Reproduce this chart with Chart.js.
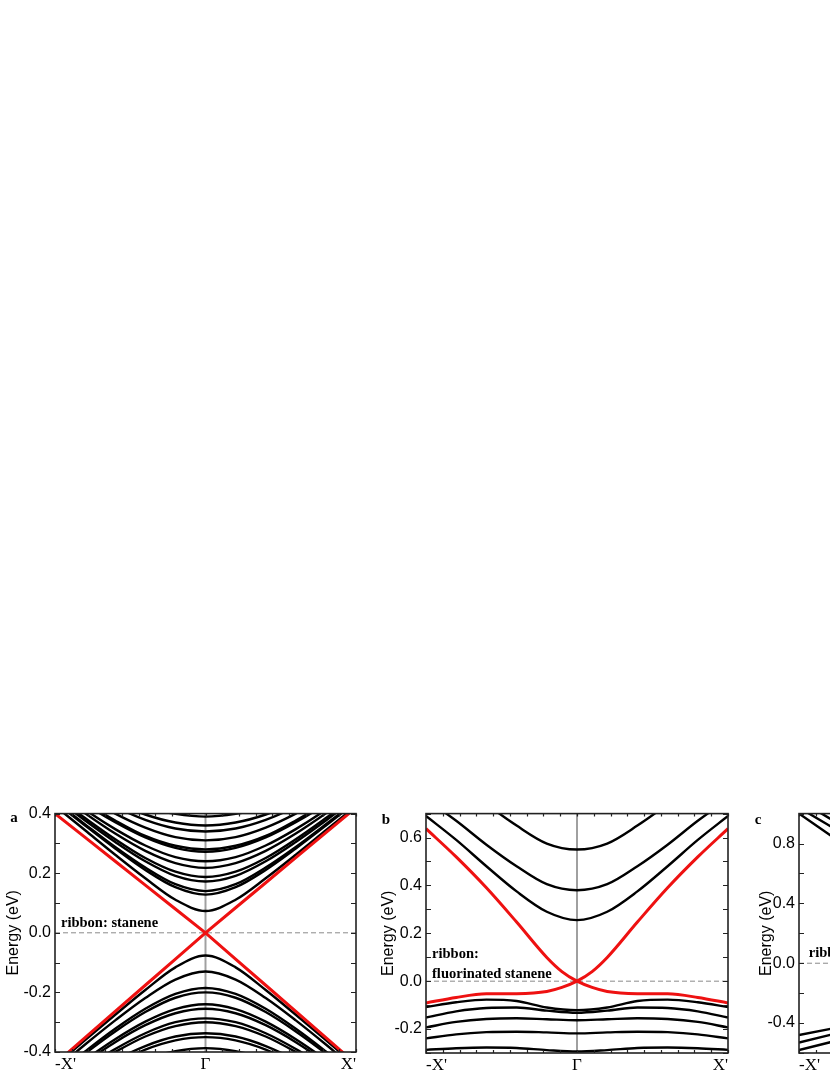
<!DOCTYPE html>
<html>
<head>
<meta charset="utf-8">
<script src="https://cdn.jsdelivr.net/npm/chart.js@4.4.1/dist/chart.umd.min.js"></script>
<style>
  html, body { margin: 0; padding: 0; background: #fff; overflow: hidden; }
  body { width: 830px; height: 1075px; position: relative; }
  canvas { position: absolute; }
</style>
</head>
<body>
<canvas id="panelA" width="370" height="275" style="left:0px;top:800px"></canvas>
<canvas id="panelB" width="370" height="275" style="left:370px;top:800px"></canvas>
<canvas id="panelC" width="375" height="275" style="left:740px;top:800px"></canvas>
<script>
// k along the ribbon: -X' .. Γ .. X'
const kTicks = [-1, 0, 1];
const kNames = ["-X'", 'Γ', "X'"];
const kGrid = [-1, -0.8, -0.6, -0.4, -0.2, 0, 0.2, 0.4, 0.6, 0.8, 1];
const kEdgeB = [-1, -0.8, -0.6, -0.4, -0.2, -0.1, 0, 0.1, 0.2, 0.4, 0.6, 0.8, 1];
const kC = [-1, -0.8, -0.6];

// energy ticks (eV)
const yTicksA = [-0.4, -0.2, 0, 0.2, 0.4];
const yTicksB = [-0.2, 0, 0.2, 0.4, 0.6];
const yTicksC = [-0.4, 0, 0.4, 0.8];

// panel a: stanene ribbon
const edgeA1 = [0.40, 0.32, 0.24, 0.16, 0.08, 0, -0.088, -0.176, -0.264, -0.352, -0.44];
const edgeA2 = [-0.44, -0.352, -0.264, -0.176, -0.088, 0, 0.084, 0.168, 0.252, 0.336, 0.42];
const condA = [
    [0.426, 0.344, 0.262, 0.183, 0.111, 0.073, 0.111, 0.183, 0.262, 0.344, 0.426],
    [0.439, 0.360, 0.283, 0.211, 0.153, 0.128, 0.153, 0.211, 0.283, 0.360, 0.439],
    [0.442, 0.364, 0.288, 0.219, 0.163, 0.140, 0.163, 0.219, 0.288, 0.364, 0.442],
    [0.453, 0.377, 0.305, 0.240, 0.191, 0.172, 0.191, 0.240, 0.305, 0.377, 0.453],
    [0.459, 0.385, 0.314, 0.251, 0.205, 0.187, 0.205, 0.251, 0.314, 0.385, 0.459],
    [0.475, 0.401, 0.333, 0.275, 0.234, 0.218, 0.234, 0.275, 0.333, 0.401, 0.475],
    [0.486, 0.413, 0.348, 0.293, 0.254, 0.240, 0.254, 0.293, 0.348, 0.413, 0.486],
    [0.501, 0.432, 0.371, 0.320, 0.285, 0.272, 0.285, 0.320, 0.371, 0.432, 0.501],
    [0.505, 0.437, 0.377, 0.325, 0.292, 0.280, 0.292, 0.325, 0.377, 0.437, 0.505],
    [0.520, 0.457, 0.400, 0.353, 0.321, 0.310, 0.321, 0.353, 0.400, 0.457, 0.520],
    [0.540, 0.478, 0.423, 0.379, 0.350, 0.340, 0.350, 0.379, 0.423, 0.478, 0.540],
    [0.550, 0.490, 0.439, 0.397, 0.370, 0.360, 0.370, 0.397, 0.439, 0.490, 0.550],
    [0.570, 0.510, 0.460, 0.420, 0.399, 0.390, 0.399, 0.420, 0.460, 0.510, 0.570]
];
const valA = [
    [-0.447, -0.360, -0.275, -0.192, -0.116, -0.076, -0.116, -0.192, -0.275, -0.360, -0.447],
    [-0.460, -0.375, -0.294, -0.219, -0.157, -0.130, -0.157, -0.219, -0.294, -0.375, -0.460],
    [-0.478, -0.398, -0.322, -0.255, -0.205, -0.185, -0.205, -0.255, -0.322, -0.398, -0.478],
    [-0.485, -0.405, -0.331, -0.266, -0.218, -0.200, -0.218, -0.266, -0.331, -0.405, -0.485],
    [-0.500, -0.426, -0.357, -0.298, -0.256, -0.240, -0.256, -0.298, -0.357, -0.426, -0.500],
    [-0.510, -0.435, -0.367, -0.310, -0.270, -0.255, -0.270, -0.310, -0.367, -0.435, -0.510],
    [-0.520, -0.453, -0.390, -0.337, -0.300, -0.287, -0.300, -0.337, -0.390, -0.453, -0.520],
    [-0.530, -0.460, -0.400, -0.348, -0.313, -0.300, -0.313, -0.348, -0.400, -0.460, -0.530],
    [-0.550, -0.490, -0.428, -0.380, -0.348, -0.337, -0.348, -0.380, -0.428, -0.490, -0.550],
    [-0.560, -0.500, -0.440, -0.392, -0.361, -0.350, -0.361, -0.392, -0.440, -0.500, -0.560],
    [-0.580, -0.520, -0.470, -0.425, -0.397, -0.387, -0.397, -0.425, -0.470, -0.520, -0.580]
];

// panel b: fluorinated stanene ribbon
const edgeB1 = [0.637, 0.519, 0.390, 0.247, 0.099, 0.040, 0, -0.026, -0.043, -0.052, -0.053, -0.068, -0.091];
const edgeB2 = [-0.091, -0.068, -0.053, -0.052, -0.043, -0.026, 0, 0.040, 0.099, 0.247, 0.390, 0.519, 0.637];
const condB = [
    [0.69, 0.59, 0.48, 0.375, 0.29, 0.255, 0.29, 0.375, 0.48, 0.59, 0.69],
    [0.76, 0.67, 0.57, 0.48, 0.405, 0.38, 0.405, 0.48, 0.57, 0.67, 0.76],
    [0.94, 0.84, 0.74, 0.65, 0.575, 0.55, 0.575, 0.65, 0.74, 0.84, 0.94]
];
const valB = [
    [-0.108, -0.088, -0.077, -0.083, -0.110, -0.121, -0.110, -0.083, -0.077, -0.088, -0.108],
    [-0.152, -0.126, -0.112, -0.110, -0.123, -0.132, -0.123, -0.110, -0.112, -0.126, -0.152],
    [-0.193, -0.170, -0.158, -0.155, -0.159, -0.163, -0.159, -0.155, -0.158, -0.170, -0.193],
    [-0.239, -0.222, -0.213, -0.211, -0.214, -0.218, -0.214, -0.211, -0.213, -0.222, -0.239],
    [-0.287, -0.280, -0.277, -0.279, -0.288, -0.294, -0.288, -0.279, -0.277, -0.280, -0.287]
];

// panel c: only the left edge is inside the picture
const bandsC = [
    [1.00, 0.86, 0.72],
    [1.04, 0.92, 0.80],
    [1.09, 0.97, 0.86],
    [-0.48, -0.44, -0.40],
    [-0.53, -0.48, -0.43],
    [-0.58, -0.53, -0.48]
];

const SANS = '"Liberation Sans", Arial, sans-serif';
const SERIF = '"Liberation Serif", "Times New Roman", serif';
const RED = '#ee1111';

function band(ks, es, color, width, smooth) {
    return {
        data: ks.map((k, i) => ({ x: k, y: es[i] })),
        borderColor: color,
        borderWidth: width,
        pointRadius: 0,
        fill: false,
        cubicInterpolationMode: smooth ? 'monotone' : 'default',
        tension: 0,
        clip: 0
    };
}

// frame, inward ticks, Γ line, Fermi level, labels
const decor = {
    id: 'decor',
    beforeDatasetsDraw(chart, args, opts) {
        const { ctx, chartArea: a, scales: { x, y } } = chart;
        ctx.save();
        const y0 = y.getPixelForValue(0);
        ctx.strokeStyle = '#8a8a8a';
        ctx.lineWidth = 1;
        ctx.setLineDash([5, 3]);
        ctx.beginPath();
        ctx.moveTo(a.left, y0);
        ctx.lineTo(a.right, y0);
        ctx.stroke();
        ctx.setLineDash([]);
        const xg = x.getPixelForValue(0);
        ctx.strokeStyle = '#a0a0a0';
        ctx.lineWidth = 2;
        ctx.beginPath();
        ctx.moveTo(xg, a.top);
        ctx.lineTo(xg, a.bottom);
        ctx.stroke();
        ctx.restore();
    },
    afterDatasetsDraw(chart, args, opts) {
        const { ctx, chartArea: a, scales: { x, y } } = chart;
        ctx.save();
        ctx.strokeStyle = '#222';
        ctx.lineWidth = 1.2;
        ctx.beginPath();
        // energy ticks on both sides
        const n = Math.round((y.max - y.min) / opts.yMinor);
        for (let i = 0; i <= n; i++) {
            const py = Math.round(y.getPixelForValue(y.min + i * opts.yMinor)) + 0.5;
            ctx.moveTo(a.left, py); ctx.lineTo(a.left + 5, py);
            ctx.moveTo(a.right, py); ctx.lineTo(a.right - 5, py);
        }
        // k ticks on top and bottom
        for (let i = 0; i <= 18; i++) {
            const px = Math.round(x.getPixelForValue(-1 + i / 9)) + 0.5;
            ctx.moveTo(px, a.top); ctx.lineTo(px, a.top + 3);
            ctx.moveTo(px, a.bottom); ctx.lineTo(px, a.bottom - 3);
        }
        ctx.stroke();
        ctx.lineWidth = 1.6;
        ctx.strokeRect(a.left, a.top, a.right - a.left, a.bottom - a.top);

        ctx.fillStyle = '#000';
        ctx.textBaseline = 'middle';
        ctx.textAlign = 'left';
        ctx.font = 'bold 14.5px ' + SERIF;
        opts.notes.forEach(n => {
            ctx.fillText(n.text, x.getPixelForValue(n.k), y.getPixelForValue(n.e));
        });
        ctx.textAlign = 'center';
        ctx.font = 'bold 15px ' + SERIF;
        ctx.fillText(opts.letter, opts.letterX, opts.letterY);
        ctx.restore();
    }
};

function makePanel(id, cfg) {
    new Chart(document.getElementById(id), {
        type: 'line',
        data: { datasets: cfg.datasets },
        options: {
            responsive: false,
            animation: false,
            events: [],
            layout: { padding: { left: 0, right: cfg.padRight, top: 10, bottom: 0 } },
            plugins: {
                legend: { display: false },
                tooltip: { enabled: false },
                decor: cfg.decor
            },
            scales: {
                x: {
                    type: 'linear', min: -1, max: 1,
                    grid: { display: false, drawTicks: false }, border: { display: false },
                    afterBuildTicks: s => { s.ticks = kTicks.map(v => ({ value: v })); },
                    afterFit: s => { s.height = cfg.xHeight; },
                    ticks: {
                        align: 'inner', padding: 2, color: '#000', maxRotation: 0, autoSkip: false,
                        font: { family: SERIF, size: 17 },
                        callback: (v, i) => kNames[i]
                    }
                },
                y: {
                    type: 'linear', min: cfg.yMin, max: cfg.yMax,
                    grid: { display: false, drawTicks: false }, border: { display: false },
                    afterBuildTicks: s => { s.ticks = cfg.yTicks.map(v => ({ value: v })); },
                    afterFit: s => { s.width = cfg.yWidth; },
                    ticks: {
                        padding: 4, color: '#000',
                        font: { family: SANS, size: 16 },
                        callback: v => v.toFixed(1)
                    },
                    title: {
                        display: true, text: 'Energy (eV)', color: '#000',
                        font: { family: SANS, size: 16 },
                        padding: { top: cfg.titlePad, bottom: 0 }
                    }
                }
            }
        },
        plugins: [decor]
    });
}

makePanel('panelA', {
    yMin: -0.4, yMax: 0.4, yTicks: yTicksA, yWidth: 55, padRight: 14, xHeight: 23, titlePad: 4,
    datasets: [band(kGrid, edgeA1, RED, 3, false), band(kGrid, edgeA2, RED, 3, false)]
        .concat(condA.map(e => band(kGrid, e, '#000', 2.4, true)))
        .concat(valA.map(e => band(kGrid, e, '#000', 2.4, true))),
    decor: {
        yMinor: 0.1, letter: 'a', letterX: 14, letterY: 18,
        notes: [{ text: 'ribbon: stanene', k: -0.96, e: 0.033 }]
    }
});

makePanel('panelB', {
    yMin: -0.3, yMax: 0.7, yTicks: yTicksB, yWidth: 56, padRight: 12, xHeight: 22, titlePad: 9,
    datasets: [band(kEdgeB, edgeB1, RED, 3, true), band(kEdgeB, edgeB2, RED, 3, true)]
        .concat(condB.map(e => band(kGrid, e, '#000', 2.4, true)))
        .concat(valB.map(e => band(kGrid, e, '#000', 2.4, true))),
    decor: {
        yMinor: 0.1, letter: 'b', letterX: 16, letterY: 20,
        notes: [
            { text: 'ribbon:', k: -0.96, e: 0.112 },
            { text: 'fluorinated stanene', k: -0.96, e: 0.029 }
        ]
    }
});

makePanel('panelC', {
    yMin: -0.6, yMax: 1.0, yTicks: yTicksC, yWidth: 59, padRight: 14, xHeight: 22, titlePad: 17,
    datasets: bandsC.map(e => band(kC, e, '#000', 2.4, false)),
    decor: {
        yMinor: 0.2, letter: 'c', letterX: 18, letterY: 20,
        notes: [{ text: 'ribbon:', k: -0.935, e: 0.07 }]
    }
});
</script>
</body>
</html>
